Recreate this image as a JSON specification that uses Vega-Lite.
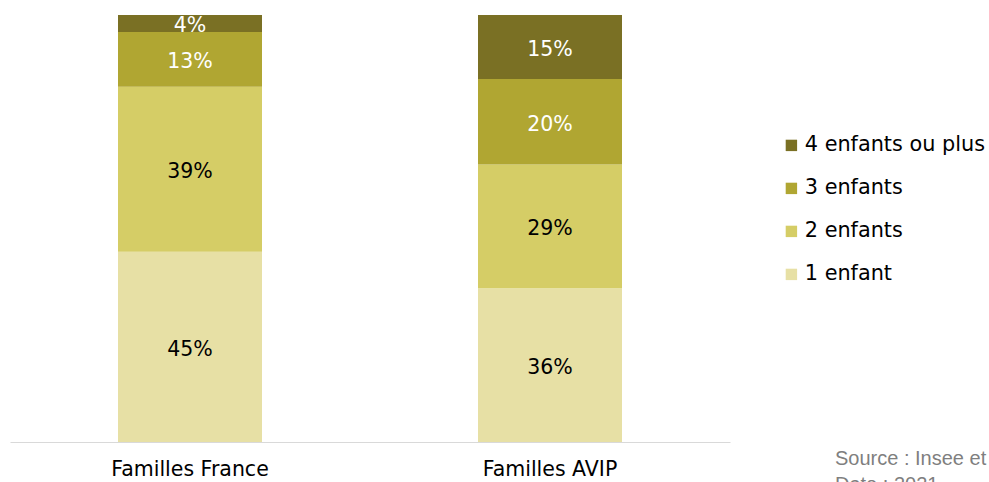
{
  "$schema": "https://vega.github.io/schema/vega-lite/v6.json",
  "width": 720,
  "height": 427,
  "autosize": {"type": "none"},
  "padding": {"left": 10, "top": 15, "right": 259, "bottom": 40},
  "background": "white",
  "title": {
    "text": ["Source : Insee et Avip", "Date : 2021"],
    "orient": "bottom",
    "anchor": "start",
    "frame": "group",
    "dx": 825,
    "offset": 0,
    "dy": -31,
    "font": "Liberation Sans",
    "fontSize": 20,
    "fontWeight": "normal",
    "color": "#7f7f7f",
    "lineHeight": 26
  },
  "data": {
    "values": [
      {"groupe": "Familles France", "cat": "1 enfant", "ordre": 1, "pct": 45, "label": "45%"},
      {"groupe": "Familles France", "cat": "2 enfants", "ordre": 2, "pct": 39, "label": "39%"},
      {"groupe": "Familles France", "cat": "3 enfants", "ordre": 3, "pct": 13, "label": "13%"},
      {"groupe": "Familles France", "cat": "4 enfants ou plus", "ordre": 4, "pct": 4, "label": "4%"},
      {"groupe": "Familles AVIP", "cat": "1 enfant", "ordre": 1, "pct": 36, "label": "36%"},
      {"groupe": "Familles AVIP", "cat": "2 enfants", "ordre": 2, "pct": 29, "label": "29%"},
      {"groupe": "Familles AVIP", "cat": "3 enfants", "ordre": 3, "pct": 20, "label": "20%"},
      {"groupe": "Familles AVIP", "cat": "4 enfants ou plus", "ordre": 4, "pct": 15, "label": "15%"}
    ]
  },
  "encoding": {
    "x": {
      "field": "groupe",
      "type": "nominal",
      "sort": ["Familles France", "Familles AVIP"],
      "scale": {"paddingInner": 0.6, "paddingOuter": 0.3},
      "axis": {
        "title": null,
        "labelAngle": 0,
        "ticks": false,
        "domainColor": "#d9d9d9",
        "domainWidth": 1,
        "labelFont": "DejaVu Sans",
        "labelFontSize": 20.5,
        "labelColor": "#000000",
        "labelPadding": 17
      }
    }
  },
  "layer": [
    {
      "mark": {"type": "bar"},
      "encoding": {
        "y": {
          "field": "pct",
          "type": "quantitative",
          "stack": "normalize",
          "axis": null
        },
        "order": {"field": "ordre", "type": "quantitative", "sort": "ascending"},
        "color": {
          "field": "cat",
          "type": "nominal",
          "scale": {
            "domain": ["4 enfants ou plus", "3 enfants", "2 enfants", "1 enfant"],
            "range": ["#7a7024", "#b0a632", "#d5cd66", "#e7e0a5"]
          },
          "legend": {
            "title": null,
            "orient": "none",
            "legendX": 771,
            "legendY": 120,
            "symbolType": "square",
            "symbolSize": 130,
            "symbolStrokeWidth": 0,
            "labelFont": "DejaVu Sans",
            "labelFontSize": 20.8,
            "labelColor": "#000000",
            "rowPadding": 21,
            "labelOffset": 3,
            "labelLimit": 300
          }
        }
      }
    },
    {
      "mark": {"type": "text", "font": "DejaVu Sans", "fontSize": 20.5, "baseline": "middle", "dy": 3},
      "encoding": {
        "y": {
          "field": "pct",
          "type": "quantitative",
          "stack": "normalize",
          "bandPosition": 0.5
        },
        "order": {"field": "ordre", "type": "quantitative", "sort": "ascending"},
        "text": {"field": "label", "type": "nominal"},
        "detail": {"field": "cat"},
        "color": {
          "condition": {"test": "datum.ordre >= 3", "value": "#ffffff"},
          "value": "#000000"
        }
      }
    }
  ],
  "config": {"view": {"stroke": null}}
}
